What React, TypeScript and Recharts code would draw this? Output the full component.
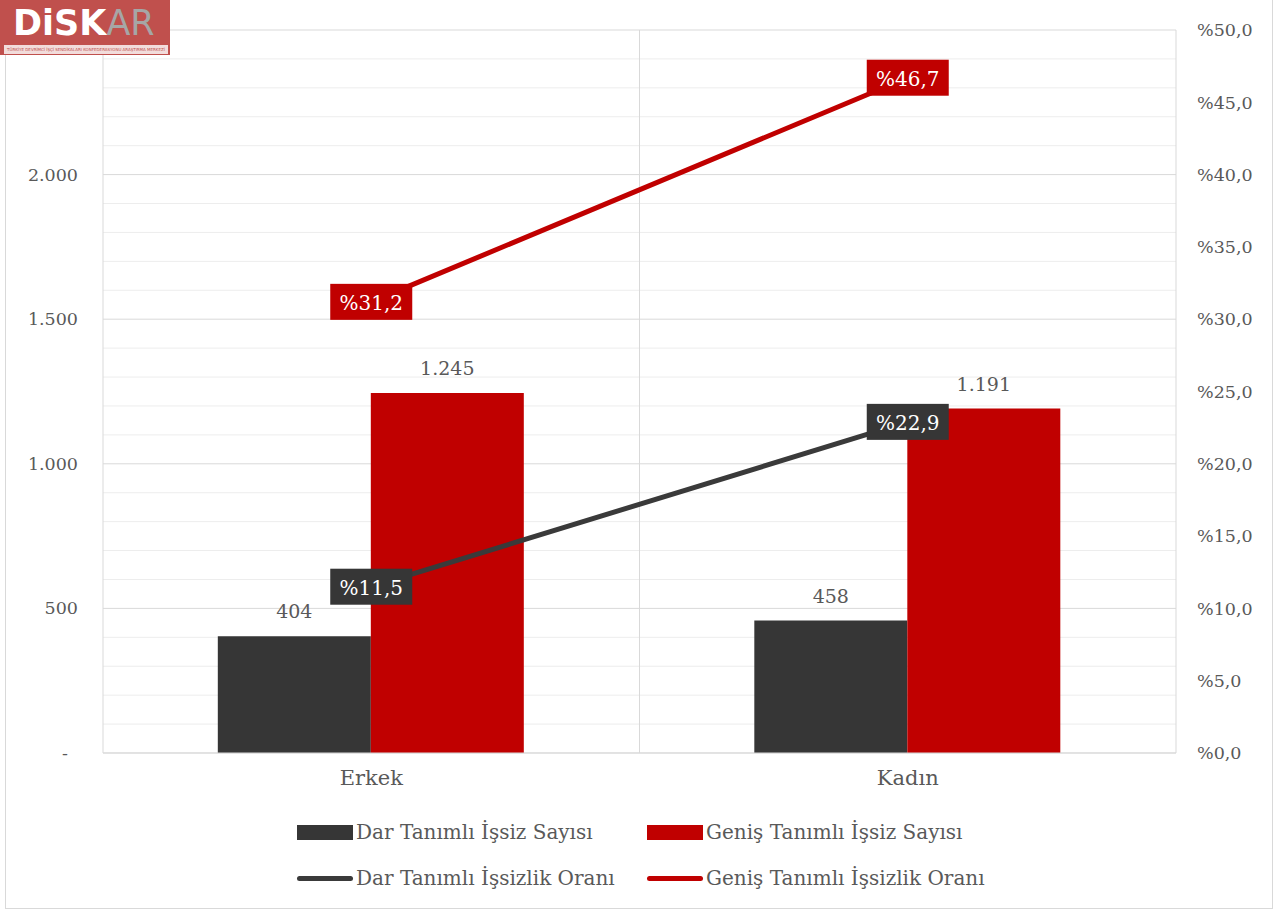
import React from 'react';
import {
  ComposedChart,
  Bar,
  Line,
  XAxis,
  YAxis,
  CartesianGrid,
  LabelList,
} from 'recharts';

// values
const categories = ['Erkek', 'Kadın'];
const darSayi = [404, 458];
const genisSayi = [1245, 1191];
const darOran = [11.5, 22.9];
const genisOran = [31.2, 46.7];

const leftTicks = [0, 500, 1000, 1500, 2000];
const rightTicks = [0, 5, 10, 15, 20, 25, 30, 35, 40, 45, 50];
const majorGrid = [0, 500, 1000, 1500, 2000, 2500];
const minorGrid = [
  100, 200, 300, 400, 600, 700, 800, 900, 1100, 1200, 1300, 1400,
  1600, 1700, 1800, 1900, 2100, 2200, 2300, 2400,
];

const DARK = '#363636';
const RED = '#C00000';
const TEXT = '#595959';
const FONT = '"DejaVu Serif", serif';

const data = categories.map((cat, i) => ({
  cat,
  darSayi: darSayi[i],
  genisSayi: genisSayi[i],
  darOran: darOran[i],
  genisOran: genisOran[i],
}));

const thousands = (v: number) => String(v).replace(/\B(?=(\d{3})+(?!\d))/g, '.');
const pct = (v: number) => '%' + v.toFixed(1).replace('.', ',');

const LeftTick = (props: any) => {
  const { x, y, payload } = props;
  const v = payload.value;
  return (
    <text
      x={v === 0 ? x - 10 : x}
      y={y}
      textAnchor="end"
      dominantBaseline="central"
      fill={TEXT}
      fontSize={17.5}
      fontFamily={FONT}
    >
      {v === 0 ? '-' : thousands(v)}
    </text>
  );
};

const boxLabel = (fill: string) => (props: any) => {
  const { x, y, value } = props;
  const w = 82;
  const h = 36;
  return (
    <g>
      <rect x={x - w / 2} y={y - h / 2} width={w} height={h} fill={fill} />
      <text
        x={x}
        y={y + 1}
        textAnchor="middle"
        dominantBaseline="central"
        fill="#ffffff"
        fontSize={20}
        fontFamily={FONT}
      >
        {pct(value)}
      </text>
    </g>
  );
};

const LegendItem = ({ color, label, line }: { color: string; label: string; line?: boolean }) => (
  <div style={{ display: 'flex', alignItems: 'center', width: 350 }}>
    {line ? (
      <div style={{ width: 56, height: 5, borderRadius: 3, background: color, marginRight: 3 }} />
    ) : (
      <div style={{ width: 56, height: 15, background: color, marginRight: 3 }} />
    )}
    <span style={{ fontFamily: FONT, fontSize: 20, color: TEXT, whiteSpace: 'nowrap' }}>{label}</span>
  </div>
);

export default function App() {
  return (
    <div style={{ position: 'absolute', left: 0, top: 0, width: 1280, height: 911, background: '#fff' }}>
      <div
        style={{
          position: 'absolute',
          left: 5,
          top: 0,
          width: 1266,
          height: 908,
          border: '1px solid #d9d9d9',
          borderTop: 'none',
        }}
      />
      <div style={{ position: 'absolute', left: 0, top: 0 }}>
        <ComposedChart
          width={1280}
          height={911}
          data={data}
          margin={{ top: 30, right: 0, left: 0, bottom: 118 }}
          barCategoryGap="21.4%"
          barGap={0}
        >
          <CartesianGrid
            yAxisId="left"
            vertical={false}
            horizontalValues={minorGrid}
            stroke="#ededed"
          />
          <CartesianGrid
            yAxisId="left"
            horizontalValues={majorGrid}
            verticalCoordinatesGenerator={({ offset }: any) => [
              offset.left,
              offset.left + offset.width / 2,
              offset.left + offset.width,
            ]}
            stroke="#d9d9d9"
          />
          <XAxis
            dataKey="cat"
            height={40}
            axisLine={{ stroke: '#d9d9d9' }}
            tickLine={false}
            tickSize={0}
            tickMargin={17}
            tick={{ fill: TEXT, fontSize: 21, fontFamily: FONT }}
          />
          <YAxis
            yAxisId="left"
            orientation="left"
            width={103}
            domain={[0, 2500]}
            ticks={leftTicks}
            axisLine={false}
            tickLine={false}
            tickSize={0}
            tickMargin={25}
            tick={<LeftTick />}
          />
          <YAxis
            yAxisId="right"
            orientation="right"
            width={104}
            domain={[0, 50]}
            ticks={rightTicks}
            axisLine={false}
            tickLine={false}
            tickSize={0}
            tickMargin={21}
            tickFormatter={pct}
            tick={{ fill: TEXT, fontSize: 17.5, fontFamily: FONT }}
          />
          <Bar yAxisId="left" dataKey="darSayi" fill={DARK} isAnimationActive={false}>
            <LabelList
              dataKey="darSayi"
              position="top"
              offset={18}
              formatter={(v: any) => thousands(v)}
              fill={TEXT}
              fontSize={19}
              fontFamily={FONT}
            />
          </Bar>
          <Bar yAxisId="left" dataKey="genisSayi" fill={RED} isAnimationActive={false}>
            <LabelList
              dataKey="genisSayi"
              position="top"
              offset={18}
              formatter={(v: any) => thousands(v)}
              fill={TEXT}
              fontSize={19}
              fontFamily={FONT}
            />
          </Bar>
          <Line
            yAxisId="right"
            dataKey="darOran"
            stroke="#3a3a3a"
            strokeWidth={5}
            strokeLinecap="round"
            dot={false}
            activeDot={false}
            isAnimationActive={false}
          >
            <LabelList dataKey="darOran" content={boxLabel(DARK)} />
          </Line>
          <Line
            yAxisId="right"
            dataKey="genisOran"
            stroke={RED}
            strokeWidth={5}
            strokeLinecap="round"
            dot={false}
            activeDot={false}
            isAnimationActive={false}
          >
            <LabelList dataKey="genisOran" content={boxLabel(RED)} />
          </Line>
        </ComposedChart>
      </div>

      {/* legend */}
      <div style={{ position: 'absolute', left: 297, top: 820, display: 'flex', flexDirection: 'column', gap: 22 }}>
        <div style={{ display: 'flex' }}>
          <LegendItem color={DARK} label="Dar Tanımlı İşsiz Sayısı" />
          <LegendItem color={RED} label="Geniş Tanımlı İşsiz Sayısı" />
        </div>
        <div style={{ display: 'flex' }}>
          <LegendItem color="#3a3a3a" label="Dar Tanımlı İşsizlik Oranı" line />
          <LegendItem color={RED} label="Geniş Tanımlı İşsizlik Oranı" line />
        </div>
      </div>

      {/* logo */}
      <div
        style={{
          position: 'absolute',
          left: 0,
          top: 0,
          width: 170,
          height: 55,
          background: '#c0504d',
        }}
      >
        <div
          style={{
            position: 'absolute',
            left: 13,
            top: 3,
            fontFamily: '"DejaVu Sans", sans-serif',
            fontWeight: 'bold',
            fontSize: 35,
            lineHeight: '40px',
            whiteSpace: 'nowrap',
            color: '#ffffff',
          }}
        >
          DiSK<span style={{ color: '#a6a6a6', fontWeight: 'normal' }}>AR</span>
        </div>
        <div
          style={{
            position: 'absolute',
            left: 4,
            top: 45,
            width: 164,
            height: 9,
            background: '#f2dcdb',
            fontFamily: '"DejaVu Sans", sans-serif',
            fontSize: 4,
            lineHeight: '9px',
            color: '#c0504d',
            textAlign: 'center',
            whiteSpace: 'nowrap',
          }}
        >
          TÜRKİYE DEVRİMCİ İŞÇİ SENDİKALARI KONFEDERASYONU ARAŞTIRMA MERKEZİ
        </div>
      </div>
    </div>
  );
}
